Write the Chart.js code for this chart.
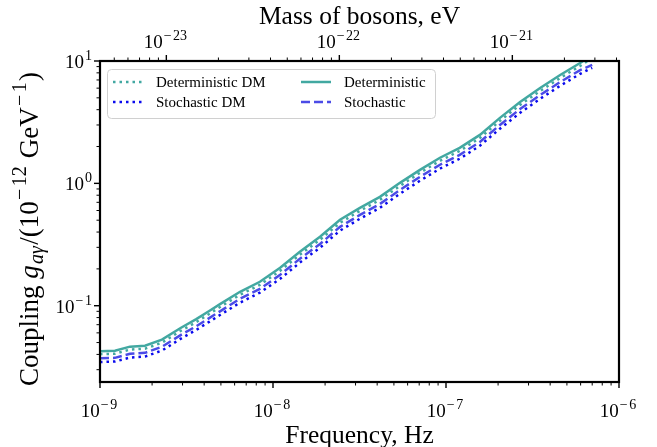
<!DOCTYPE html>
<html>
<head>
<meta charset="utf-8">
<script src="https://cdn.jsdelivr.net/npm/chart.js@4.4.1/dist/chart.umd.min.js"></script>
<style>
  html, body { margin: 0; padding: 0; background: #fff; }
  #wrap { width: 657px; height: 447px; }
</style>
</head>
<body>
<div id="wrap"><canvas id="chart" width="657" height="447"></canvas></div>
<script>
// ---------------------------------------------------------------------------
// Data
// ---------------------------------------------------------------------------
const freqHz = [1.0e-9, 1.22e-9, 1.49e-9, 1.82e-9, 2.28e-9, 2.94e-9, 3.6e-9, 4.3e-9, 4.94e-9, 6.45e-9, 8.4e-9,
                1.1e-8, 1.43e-8, 1.87e-8, 2.44e-8, 3.18e-8, 4.15e-8, 5.42e-8, 7.07e-8, 9.23e-8,
                1.2e-7, 1.57e-7, 2.05e-7, 2.68e-7, 3.5e-7, 4.57e-7, 5.96e-7, 7.0e-7];

const deterministicDM = [0.0402, 0.0405, 0.0438, 0.0445, 0.0499, 0.0625, 0.0735, 0.086, 0.0975, 0.123, 0.148,
                         0.193, 0.261, 0.346, 0.476, 0.596, 0.733, 0.954, 1.22, 1.53,
                         1.84, 2.35, 3.24, 4.38, 5.69, 7.27, 9.10, 10.6];
const stochasticDM    = [0.0346, 0.0350, 0.0377, 0.0384, 0.0430, 0.0539, 0.0634, 0.0742, 0.084, 0.106, 0.128,
                         0.166, 0.225, 0.298, 0.411, 0.514, 0.632, 0.823, 1.05, 1.32,
                         1.59, 2.03, 2.80, 3.77, 4.91, 6.27, 7.85, 8.8];
const deterministic   = [0.0425, 0.0429, 0.0463, 0.0471, 0.0528, 0.0661, 0.0778, 0.091, 0.103, 0.130, 0.157,
                         0.204, 0.276, 0.366, 0.504, 0.631, 0.776, 1.01, 1.29, 1.62,
                         1.95, 2.49, 3.43, 4.63, 6.02, 7.69, 9.63, 11.2];
const stochastic      = [0.0372, 0.0375, 0.0405, 0.0412, 0.0462, 0.0578, 0.068, 0.0796, 0.090, 0.114, 0.137,
                         0.179, 0.242, 0.320, 0.441, 0.552, 0.679, 0.884, 1.13, 1.42,
                         1.71, 2.18, 3.00, 4.05, 5.27, 6.73, 8.43, 9.3];

const freqTicks     = [1e-9, 1e-8, 1e-7, 1e-6];
const massTicks     = [1e-23, 1e-22, 1e-21];
const couplingTicks = [1e-1, 1e0, 1e1];

const FREQ_RANGE     = [1e-9, 1e-6];
const COUPLING_RANGE = [0.0238, 10];
const H_EV = 4.135667e-15;   // Planck constant, eV s  (mass axis = h * f)

// ---------------------------------------------------------------------------
// Styling
// ---------------------------------------------------------------------------
const SERIF = '"Liberation Serif", "DejaVu Serif", serif';
const TEAL  = "#42a8a1";
const BLUE  = "#0a0aee";
const BLUE_DASH = "#4b4be6";

const pts = ys => freqHz.map((x, i) => ({ x, y: ys[i] }));

const series = [
  { label: "Deterministic DM", data: pts(deterministicDM), color: TEAL,      dash: [2.5, 4], order: 4 },
  { label: "Stochastic DM",    data: pts(stochasticDM),    color: BLUE,      dash: [2.5, 4], order: 3 },
  { label: "Deterministic",    data: pts(deterministic),   color: TEAL,      dash: [],       order: 2 },
  { label: "Stochastic",       data: pts(stochastic),      color: BLUE_DASH, dash: [9, 4],   order: 1 },
];

// ---------------------------------------------------------------------------
// Drawing helpers (ticks, 10^n labels, y title, legend)
// ---------------------------------------------------------------------------
function minorValues(lo, hi) {
  const out = [];
  for (let e = Math.floor(Math.log10(lo)); e <= Math.ceil(Math.log10(hi)); e++) {
    for (let k = 2; k <= 9; k++) {
      const v = k * Math.pow(10, e);
      if (v >= lo * 0.9999 && v <= hi * 1.0001) out.push(v);
    }
  }
  return out;
}

// "10" with a raised exponent, mathtext style
function powLabel(ctx, exp, x, y, align) {
  const BIG = `19px ${SERIF}`, SMALL = `14px ${SERIF}`;
  const minus = exp < 0 ? "\u2212" : "";
  const digits = String(Math.abs(exp));
  ctx.font = BIG;
  const wb = ctx.measureText("10").width;
  ctx.font = SMALL;
  const wm = minus ? ctx.measureText(minus).width + 1.5 : 0;
  const wd = ctx.measureText(digits).width;
  const w = wb + 1 + wm + wd;
  const x0 = align === "right" ? x - w : x - w / 2;
  ctx.textAlign = "left";
  ctx.textBaseline = "alphabetic";
  ctx.font = BIG;
  ctx.fillText("10", x0, y);
  ctx.font = SMALL;
  if (minus) ctx.fillText(minus, x0 + wb + 1, y - 8);
  ctx.fillText(digits, x0 + wb + 1 + wm, y - 8);
}

const yTitleParts = [
  ["Coupling ", "", 0],
  ["g", "italic ", 0],
  ["a\u03b3", "italic ", 1],
  ["/(10", "", 0],
  ["\u2212", "", -1],
  ["12", "", -1],
  [" GeV", "", 0],
  ["\u2212", "", -1],
  ["1", "", -1],
  [")", "", 0],
];

function drawYTitle(ctx, cx, cy) {
  const size = 27, small = 20;
  const fontOf = p => `${p[1]}${p[2] ? small : size}px ${SERIF}`;
  const gap = p => (p[2] ? 2.5 : 0);
  let total = 0;
  yTitleParts.forEach(p => { ctx.font = fontOf(p); total += ctx.measureText(p[0]).width + gap(p); });
  ctx.save();
  ctx.translate(cx, cy);
  ctx.rotate(-Math.PI / 2);
  ctx.textAlign = "left";
  ctx.textBaseline = "alphabetic";
  ctx.fillStyle = "#000";
  let x = -total / 2;
  yTitleParts.forEach(p => {
    ctx.font = fontOf(p);
    const dy = p[2] === 1 ? 5 : p[2] === -1 ? -12 : 0;
    ctx.fillText(p[0], x + gap(p) / 2, dy);
    x += ctx.measureText(p[0]).width + gap(p);
  });
  ctx.restore();
}

function drawLegend(ctx, datasets) {
  const box = { x: 107, y: 69, w: 328, h: 49 };
  ctx.save();
  ctx.beginPath();
  ctx.roundRect(box.x + 0.5, box.y + 0.5, box.w, box.h, 4);
  ctx.fillStyle = "rgba(255,255,255,0.8)";
  ctx.fill();
  ctx.strokeStyle = "#d0d0d0";
  ctx.lineWidth = 1;
  ctx.stroke();

  const colX = [113, 301];
  const rowY = [82, 102];
  ctx.font = `15px ${SERIF}`;
  ctx.textBaseline = "middle";
  ctx.textAlign = "left";
  datasets.forEach((ds, i) => {
    const x = colX[Math.floor(i / 2)], y = rowY[i % 2];
    ctx.beginPath();
    ctx.setLineDash(ds.borderDash || []);
    ctx.strokeStyle = ds.borderColor;
    ctx.lineWidth = ds.borderWidth;
    ctx.moveTo(x, y);
    ctx.lineTo(x + 30, y);
    ctx.stroke();
    ctx.setLineDash([]);
    ctx.fillStyle = "#000";
    ctx.fillText(ds.label, x + 43, y + 1);
  });
  ctx.restore();
}

const axesPlugin = {
  id: "mplAxes",
  afterDatasetsDraw(chart) {
    const { ctx, chartArea: a, scales } = chart;
    const { x, x2, y } = scales;
    ctx.save();
    ctx.strokeStyle = "#000";
    ctx.fillStyle = "#000";

    // frame
    ctx.lineWidth = 2.2;
    ctx.strokeRect(a.left, a.top, a.right - a.left, a.bottom - a.top);

    const MAJ = 6, MIN = 3.5;
    const tick = (x1, y1, x2_, y2, w) => {
      ctx.lineWidth = w;
      ctx.beginPath(); ctx.moveTo(x1, y1); ctx.lineTo(x2_, y2); ctx.stroke();
    };

    // bottom: frequency
    freqTicks.forEach(v => {
      const px = x.getPixelForValue(v);
      tick(px, a.bottom, px, a.bottom + MAJ, 1.4);
      powLabel(ctx, Math.round(Math.log10(v)), px - 1, a.bottom + 35, "center");
    });
    minorValues(FREQ_RANGE[0], FREQ_RANGE[1]).forEach(v => {
      const px = x.getPixelForValue(v);
      tick(px, a.bottom, px, a.bottom + MIN, 1);
    });

    // top: mass of bosons
    massTicks.forEach(v => {
      const px = x2.getPixelForValue(v);
      tick(px, a.top, px, a.top - MAJ, 1.4);
      powLabel(ctx, Math.round(Math.log10(v)), px - 1, a.top - 13, "center");
    });
    minorValues(x2.min, x2.max).forEach(v => {
      const px = x2.getPixelForValue(v);
      tick(px, a.top, px, a.top - MIN, 1);
    });

    // left: coupling
    couplingTicks.forEach(v => {
      const py = y.getPixelForValue(v);
      tick(a.left, py, a.left - MAJ, py, 1.4);
      powLabel(ctx, Math.round(Math.log10(v)), a.left - 8, py + 7, "right");
    });
    minorValues(COUPLING_RANGE[0], COUPLING_RANGE[1]).forEach(v => {
      const py = y.getPixelForValue(v);
      tick(a.left, py, a.left - MIN, py, 1);
    });

    drawYTitle(ctx, 38, 229);
    ctx.restore();

    drawLegend(ctx, chart.data.datasets);
  },
};

// ---------------------------------------------------------------------------
// Chart
// ---------------------------------------------------------------------------
const setTicks = list => scale => { scale.ticks = list.map(value => ({ value })); };

new Chart(document.getElementById("chart"), {
  type: "line",
  data: {
    datasets: series.map(s => ({
      label: s.label,
      data: s.data,
      borderColor: s.color,
      backgroundColor: s.color,
      borderDash: s.dash,
      borderWidth: 2.5,
      pointRadius: 0,
      tension: 0,
      fill: false,
      order: s.order,
    })),
  },
  options: {
    responsive: false,
    animation: false,
    devicePixelRatio: 1,
    layout: { padding: { left: 0, right: 38, top: 0, bottom: 0 } },
    plugins: { legend: { display: false }, tooltip: { enabled: false } },
    scales: {
      x: {
        type: "logarithmic",
        position: "bottom",
        min: FREQ_RANGE[0],
        max: FREQ_RANGE[1],
        grid: { display: false },
        border: { display: false },
        ticks: { display: false },
        afterBuildTicks: setTicks(freqTicks),
        afterFit: s => { s.height = 65; },
        title: {
          display: true,
          text: "Frequency, Hz",
          color: "#000",
          font: { family: SERIF, size: 25.5, lineHeight: 0.86 },
          padding: { top: 0, bottom: 0 },
        },
      },
      x2: {
        type: "logarithmic",
        position: "top",
        min: FREQ_RANGE[0] * H_EV,
        max: FREQ_RANGE[1] * H_EV,
        grid: { display: false },
        border: { display: false },
        ticks: { display: false },
        afterBuildTicks: setTicks(massTicks),
        afterFit: s => { s.height = 61; },
        title: {
          display: true,
          text: "Mass of bosons, eV",
          color: "#000",
          font: { family: SERIF, size: 25.5, lineHeight: 0.86 },
          padding: { top: 6, bottom: 0 },
        },
      },
      y: {
        type: "logarithmic",
        position: "left",
        min: COUPLING_RANGE[0],
        max: COUPLING_RANGE[1],
        grid: { display: false },
        border: { display: false },
        ticks: { display: false },
        afterBuildTicks: setTicks(couplingTicks),
        afterFit: s => { s.width = 100; },
      },
    },
  },
  plugins: [axesPlugin],
});
</script>
</body>
</html>
